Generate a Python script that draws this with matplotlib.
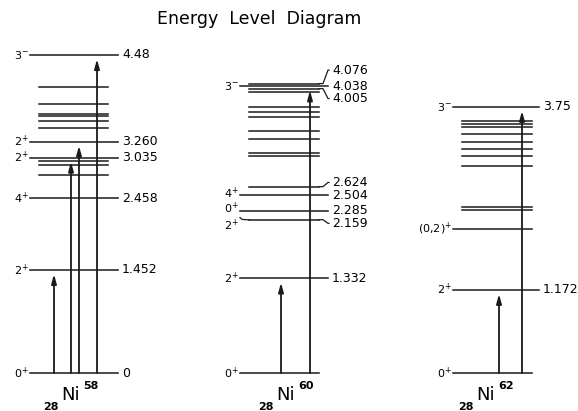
import matplotlib
matplotlib.use("Agg")
import matplotlib.pyplot as plt

plt.rcParams['font.family'] = 'DejaVu Sans'
plt.rcParams['mathtext.fontset'] = 'dejavusans'
plt.rcParams['mathtext.default'] = 'regular'

# energies in MeV
ni58_E = [0, 1.452, 2.458, 3.035, 3.260, 4.48]
ni58_spin = ['0+', '2+', '4+', '2+', '2+', '3-']
ni58_lab = ['0', '1.452', '2.458', '3.035', '3.260', '4.48']
ni58_other = [2.79, 2.93, 2.98, 3.45, 3.55, 3.62, 3.65, 3.79, 4.03]
ni58_arrows = [1.452, 3.035, 3.260, 4.48]

ni60_E = [0, 1.332, 2.159, 2.285, 2.504, 2.624, 4.005, 4.038, 4.076]
ni60_spin = ['0+', '2+', '2+', '0+', '4+', '', '', '3-', '']
ni60_lab = ['', '1.332', '2.159', '2.285', '2.504', '2.624', '4.005', '4.038', '4.076']
ni60_other = [3.06, 3.10, 3.29, 3.41, 3.61, 3.67, 3.74, 3.96]
ni60_arrows = [1.332, 4.038]

ni62_E = [0, 1.172, 2.03, 3.75]
ni62_spin = ['0+', '2+', '(0{,}2)+', '3-']
ni62_lab = ['', '1.172', '', '3.75']
ni62_other = [2.29, 2.34, 2.91, 3.06, 3.16, 3.25, 3.36, 3.46, 3.50, 3.55]
ni62_arrows = [1.172, 3.75]

# label shifts for the bent leader lines (MeV)
ni60_shift = {2.159: -0.05, 2.624: 0.06, 4.005: -0.14, 4.076: 0.19}
ni60_spin_shift = {2.159: -0.075, 2.285: 0.035, 2.504: 0.03}

panels = [
    dict(E=ni58_E, spin=ni58_spin, lab=ni58_lab, other=ni58_other, arrows=ni58_arrows,
         shift={}, sshift={}, left=30, right=118, sl=39, sr=108, ax_x=[54, 71, 79, 97],
         nx=71, A='58'),
    dict(E=ni60_E, spin=ni60_spin, lab=ni60_lab, other=ni60_other, arrows=ni60_arrows,
         shift=ni60_shift, sshift=ni60_spin_shift, left=240, right=328, sl=249, sr=319,
         ax_x=[281, 310], nx=286, A='60'),
    dict(E=ni62_E, spin=ni62_spin, lab=ni62_lab, other=ni62_other, arrows=ni62_arrows,
         shift={}, sshift={}, left=453, right=539, sl=462, sr=532, ax_x=[499, 522],
         nx=486, A='62'),
]

LC = '#1a1a1a'


def spin_tex(s):
    return r'$%s^{%s}$' % (s[:-1], s[-1])


fig = plt.figure(figsize=(5.78, 4.11), dpi=100)
ax = fig.add_axes([0, 0, 1, 1])
ax.set_xlim(0, 578)
ax.set_ylim(-(411 - 373) / 71, 373 / 71)
ax.axis('off')

for p in panels:
    for e in p['other']:
        ax.plot([p['sl'], p['sr']], [e, e], color=LC, lw=1.1)
    for e, s, l in zip(p['E'], p['spin'], p['lab']):
        x0 = p['left'] if s else p['sl']
        x1 = p['right'] if l else p['sr']
        d = 0
        if e in p['shift']:
            x1 = p['sr']
            d = p['shift'][e]
            ax.plot([x1, x1 + 4, x1 + 9, p['right'] + 1], [e, e, e + d, e + d], color=LC, lw=0.9)
            if s:
                x0 = p['sl']
                ax.plot([p['left'], p['left'] + 2, p['left'] + 5, x0], [e + 0.03, e + 0.005, e, e],
                        color=LC, lw=0.9)
        ax.plot([x0, x1], [e, e], color=LC, lw=1.1)
        if s:
            ax.text(p['left'] - 1, e + p['sshift'].get(e, 0), spin_tex(s),
                    ha='right', va='center', fontsize=8)
        if l:
            ax.text(p['right'] + 4, e + d, l, ha='left', va='center', fontsize=9)
    for x, e in zip(p['ax_x'], p['arrows']):
        ax.annotate('', xy=(x, e), xytext=(x, 0),
                    arrowprops=dict(arrowstyle='-|>,head_length=0.55,head_width=0.15',
                                    color=LC, lw=1.3, shrinkA=0, shrinkB=3))
    nx = p['nx']
    ax.text(nx, -0.31, 'Ni', ha='center', va='center', fontsize=13)
    ax.text(nx - 12, -0.475, '28', ha='right', va='center', fontsize=8, fontweight='bold')
    ax.text(nx + 12, -0.19, p['A'], ha='left', va='center', fontsize=8, fontweight='bold')

fig.text(259 / 578, 1 - 19 / 411, 'Energy  Level  Diagram', ha='center', va='center',
         fontsize=12.5)

fig.savefig('out.png', dpi=100)
